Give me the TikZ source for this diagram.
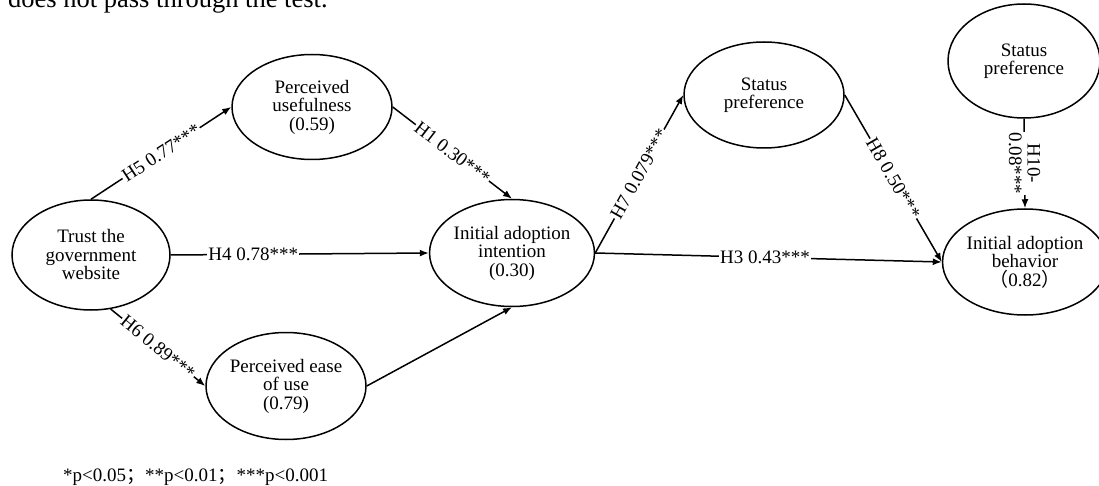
\documentclass[tikz,border=0pt]{standalone}
\usepackage{fontspec}
\setmainfont{Liberation Serif}
\newfontfamily\cjk{Noto Sans CJK SC}
\usetikzlibrary{shapes.geometric,arrows.meta}

\tikzset{
  latent/.style={ellipse, draw, line width=1.5pt, align=center, inner sep=0pt,
    font=\fontsize{19}{18.5}\selectfont},
  link/.style={draw, line width=1.5pt, -{Latex[length=9pt,width=7pt]}},
  lab/.style={fill=white, inner sep=1.2pt, font=\fontsize{19}{18.5}\selectfont},
}

\begin{document}
\begin{tikzpicture}[x=1pt, y=-1pt]
  \useasboundingbox (0,0) rectangle (1099,486);

  % tail of the preceding paragraph
  \node[anchor=base west, inner sep=0pt, font=\fontsize{26.5}{30}\selectfont]
    (prev) at (8,8) {does not pass through the test.};

  % latent constructs
  \node[latent, minimum width=158pt, minimum height=110pt] (trust) at (91,255)
    {Trust the\\government\\website};
  \node[latent, minimum width=160pt, minimum height=105pt] (pu) at (312,107)
    {Perceived\\usefulness\\(0.59)};
  \node[latent, minimum width=160pt, minimum height=107pt] (pia) at (512,253)
    {Initial adoption\\intention\\(0.30)};
  \node[latent, minimum width=160pt, minimum height=107pt] (peu) at (286,386)
    {Perceived ease\\of use\\(0.79)};
  \node[latent, minimum width=160pt, minimum height=106pt] (spa) at (764,95)
    {Status\\preference};
  \node[latent, minimum width=152pt, minimum height=114pt] (spb) at (1024,61)
    {Status\\preference};
  \node[latent, minimum width=150pt, minimum height=106pt] (iab) at (1025,262)
    {Initial adoption\\behavior\\{\cjk （}0.82{\cjk ）}};

  % structural paths
  \path[link] (trust.north) -- node[lab, sloped] {H5 0.77***} (pu.west);
  \path[link] (trust.east) -- node[lab, pos=0.32] {H4 0.78***} (pia.west);
  \path[link] (trust.-70) -- node[lab, sloped] {H6 0.89***} (peu.west);
  \path[link] (pu.east) -- node[lab, sloped] {H1 0.30***} (pia.north);
  \path[link] (peu.east) -- (pia.south);
  \path[link] (pia.east) -- node[lab, sloped] {H7 0.079***} (spa.west);
  \path[link] (pia.east) -- node[lab, pos=0.49] {H3 0.43***} (iab.west);
  \path[link] (spa.east) -- node[lab, sloped] {H8 0.50***} (iab.west);
  \path[link] (spb.south) -- node[lab, rotate=-90, align=center, inner sep=0.5pt]
    {H10-\\0.08***} (iab.north);

  % significance levels
  \node[anchor=west, inner sep=0pt, font=\fontsize{19}{22}\selectfont]
    (note) at (63,477) {*p<0.05{\cjk ；}**p<0.01{\cjk ；}***p<0.001};
\end{tikzpicture}
\end{document}
